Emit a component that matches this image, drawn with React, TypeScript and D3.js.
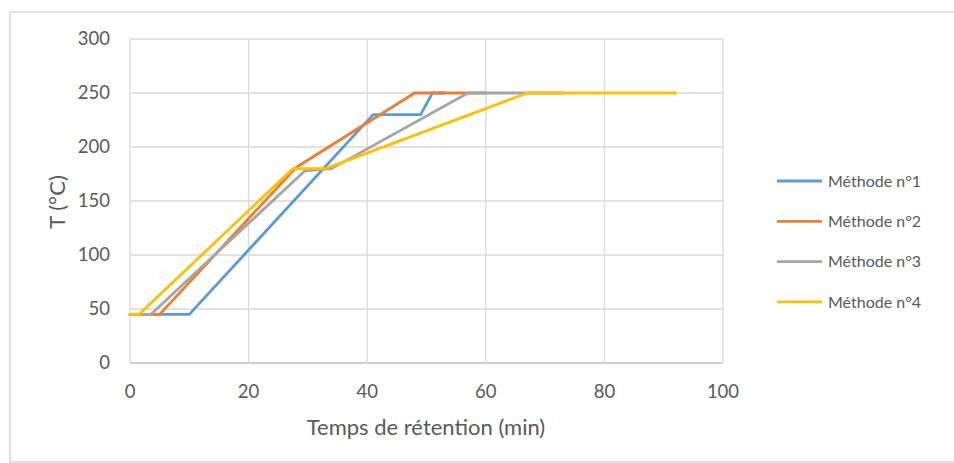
import React from "react";
import * as d3 from "d3";

type Pt = [number, number];

const seriesNames = ["Méthode n°1", "Méthode n°2", "Méthode n°3", "Méthode n°4"];
const seriesColors = ["#5B9BD5", "#ED7D31", "#A5A5A5", "#FFC000"];

const method1: Pt[] = [[0, 45], [10, 45], [41, 230], [49, 230], [51, 250], [53, 250]];
const method2: Pt[] = [[0, 45], [5, 45], [28, 181], [48, 250], [60, 250]];
const method3: Pt[] = [[0, 45], [3.5, 45], [29.5, 178], [34, 180], [57, 250], [73, 250]];
const method4: Pt[] = [[0, 45], [1.5, 45], [27.5, 180], [33, 180], [67, 250], [92, 250]];
const allSeries = [method1, method2, method3, method4];

const xTicks = [0, 20, 40, 60, 80, 100];
const yTicks = [0, 50, 100, 150, 200, 250, 300];

const FONT = "Lato, 'Open Sans', sans-serif";

export default function App() {
  const W = 954, H = 463;
  const x = d3.scaleLinear().domain([0, 100]).range([130, 723]);
  const y = d3.scaleLinear().domain([0, 300]).range([363, 39]);
  const line = d3.line<Pt>().x(d => x(d[0])).y(d => y(d[1]));

  return (
    <svg width={W} height={H} style={{ position: "absolute", left: 0, top: 0, background: "#fff" }}>
      <rect x={10} y={12} width={960} height={450} fill="#fff" stroke="#d9d9d9" strokeWidth={1.5} />
      {yTicks.map(t => (
        <line key={"gy" + t} x1={x(0)} x2={x(100)} y1={y(t)} y2={y(t)} stroke={t === 0 ? "#bfbfbf" : "#d9d9d9"} strokeWidth={1.3} />
      ))}
      {xTicks.map(t => (
        <line key={"gx" + t} x1={x(t)} x2={x(t)} y1={y(0)} y2={y(300)} stroke="#d9d9d9" strokeWidth={1.3} />
      ))}
      {yTicks.map(t => (
        <text key={"ty" + t} x={110} y={y(t)} dy="0.35em" textAnchor="end" fontFamily={FONT} fontSize={18.5} fill="#595959">{t}</text>
      ))}
      {xTicks.map(t => (
        <text key={"tx" + t} x={x(t)} y={392} dy="0.35em" textAnchor="middle" fontFamily={FONT} fontSize={18.5} fill="#595959">{t}</text>
      ))}
      <text x={426} y={427} dy="0.35em" textAnchor="middle" fontFamily={FONT} fontSize={22} fill="#595959">Temps de rétention (min)</text>
      <text transform={`translate(57,202) rotate(-90)`} dy="0.35em" textAnchor="middle" fontFamily={FONT} fontSize={22} fill="#595959">T (°C)</text>
      {allSeries.map((s, i) => (
        <path key={"s" + i} d={line(s) || ""} fill="none" stroke={seriesColors[i]} strokeWidth={2.8} strokeLinejoin="round" strokeLinecap="round" />
      ))}
      {seriesNames.map((n, i) => (
        <g key={"l" + i} transform={`translate(0,${181 + i * 40.3})`}>
          <line x1={777} x2={822} y1={0} y2={0} stroke={seriesColors[i]} strokeWidth={2.8} />
          <text x={828} y={0} dy="0.35em" fontFamily={FONT} fontSize={16} fill="#595959">{n}</text>
        </g>
      ))}
    </svg>
  );
}
